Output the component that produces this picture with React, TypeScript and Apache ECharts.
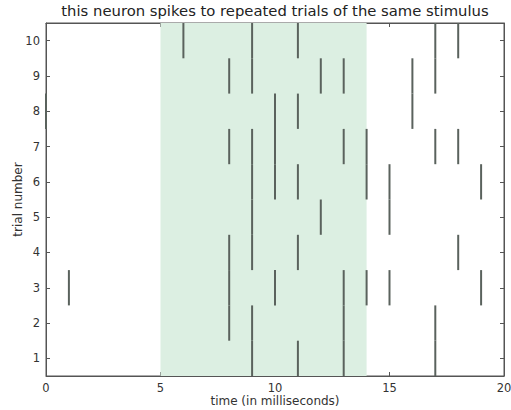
import React, { useEffect, useRef } from "react";
import * as echarts from "echarts";

const trialNumbers = [1, 2, 3, 4, 5, 6, 7, 8, 9, 10];
const spikeTimes: number[][] = [
  [9, 11, 13, 17],
  [8, 9, 13, 17],
  [1, 8, 10, 13, 14, 15, 19],
  [8, 9, 11, 18],
  [9, 12, 15],
  [9, 10, 11, 14, 15, 19],
  [8, 9, 10, 13, 14, 17, 18],
  [0, 10, 11, 16],
  [8, 9, 12, 13, 16, 17],
  [6, 9, 11, 17, 18],
];
const stimulusWindow = [5, 14];
const yTicks = [1, 2, 3, 4, 5, 6, 7, 8, 9, 10];

const FONT = "DejaVu Sans";

export default function App() {
  const ref = useRef<HTMLDivElement>(null);
  useEffect(() => {
    if (!ref.current) return;
    const chart = echarts.init(ref.current, undefined, { renderer: "svg" });
    const data: number[][] = [];
    trialNumbers.forEach((trial, i) => {
      spikeTimes[i].forEach((t) => data.push([t, trial]));
    });
    const axisLine = { show: true, onZero: false, lineStyle: { color: "#555", width: 1 } };
    const tick = { show: true, inside: true, length: 4, lineStyle: { color: "#555" } };
    const label = { color: "#333", fontFamily: FONT, fontSize: 11.5 };
    const nameStyle = { fontFamily: FONT, fontSize: 12, color: "#333" };
    chart.setOption({
      animation: false,
      backgroundColor: "#fff",
      title: {
        text: "this neuron spikes to repeated trials of the same stimulus",
        left: 275,
        textAlign: "center",
        top: 3,
        padding: 0,
        textStyle: { fontFamily: FONT, fontSize: 14.8, fontWeight: "normal", color: "#222" },
      },
      grid: {
        left: 46,
        right: 7,
        top: 23,
        bottom: 34,
        containLabel: false,
        outerBoundsMode: "none",
        show: true,
        borderColor: "#555",
        borderWidth: 1,
        backgroundColor: "transparent",
      },
      xAxis: [
        {
          type: "value",
          min: 0,
          max: 20,
          interval: 5,
          position: "bottom",
          axisLine,
          axisTick: tick,
          axisLabel: { ...label, margin: 6 },
          splitLine: { show: false },
          name: "time (in milliseconds)",
          nameLocation: "middle",
          nameGap: 19,
          nameMoveOverlap: false,
          nameTextStyle: nameStyle,
        },
        {
          type: "value",
          min: 0,
          max: 20,
          interval: 5,
          position: "top",
          axisLine,
          axisTick: tick,
          axisLabel: { show: false },
          splitLine: { show: false },
        },
      ],
      yAxis: [
        {
          type: "value",
          min: 0.5,
          max: 10.5,
          position: "left",
          axisLine,
          axisTick: { ...tick, customValues: yTicks },
          axisLabel: { ...label, margin: 6, customValues: yTicks },
          splitLine: { show: false },
          name: "trial number",
          nameLocation: "middle",
          nameGap: 22,
          nameRotate: 90,
          nameMoveOverlap: false,
          nameTextStyle: nameStyle,
        },
        {
          type: "value",
          min: 0.5,
          max: 10.5,
          position: "right",
          axisLine,
          axisTick: { ...tick, customValues: yTicks },
          axisLabel: { show: false, customValues: yTicks },
          splitLine: { show: false },
        },
      ],
      series: [
        {
          type: "custom",
          xAxisIndex: 0,
          yAxisIndex: 0,
          clip: false,
          data,
          renderItem: (params: any, api: any) => {
            const t = api.value(0);
            const trial = api.value(1);
            const p1 = api.coord([t, trial - 0.5]);
            const p2 = api.coord([t, trial + 0.5]);
            return {
              type: "line",
              shape: { x1: p1[0], y1: p1[1], x2: p2[0], y2: p2[1] },
              style: { stroke: "#5a625d", lineWidth: 2 },
            };
          },
          markArea: {
            silent: true,
            itemStyle: { color: "#dcefe2" },
            data: [[{ xAxis: stimulusWindow[0] }, { xAxis: stimulusWindow[1] }]],
          },
          z: 2,
        },
      ],
    });
    return () => chart.dispose();
  }, []);
  return <div ref={ref} style={{ width: 511, height: 410, position: "absolute", left: 0, top: 0 }} />;
}
